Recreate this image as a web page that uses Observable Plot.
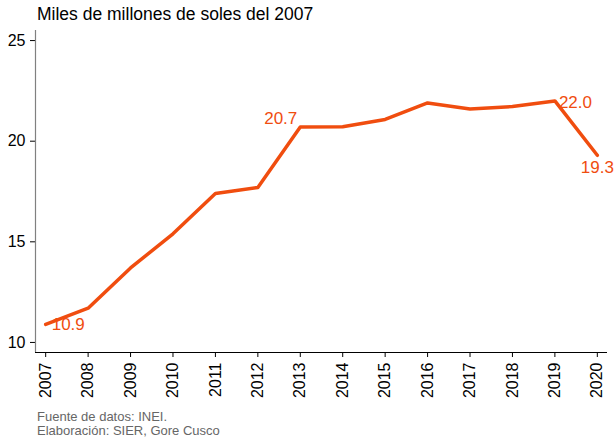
<!DOCTYPE html>
<html><head><meta charset="utf-8">
<script src="https://cdn.jsdelivr.net/npm/d3@7"></script>
<script src="https://cdn.jsdelivr.net/npm/@observablehq/plot@0.6"></script>
<style>
body{margin:0;background:#fff;font-family:"Liberation Sans",Arial,sans-serif;}
#title{height:28px;box-sizing:border-box;padding:4px 0 0 37px;font-size:17.5px;line-height:20px;color:#000;}
#caption{padding:2px 0 0 37px;font-size:13px;line-height:14px;color:#666;}
svg{display:block;}
svg text{font-family:"Liberation Sans",Arial,sans-serif;}
</style></head>
<body>
<div id="title">Miles de millones de soles del 2007</div>
<div id="chart"></div>
<div id="caption">Fuente de datos: INEI.<br>Elaboración: SIER, Gore Cusco</div>
<script>
const years = [2007,2008,2009,2010,2011,2012,2013,2014,2015,2016,2017,2018,2019,2020];
const values = [10.9,11.7,13.7,15.4,17.4,17.7,20.7,20.72,21.08,21.9,21.6,21.72,22.0,19.3];
const yTicks = [10,15,20,25];
const labelled = [
  {year:2007, value:10.9, text:"10.9", anchor:"start", dx:6, dy:0},
  {year:2013, value:20.7, text:"20.7", anchor:"end", dx:-3, dy:-9},
  {year:2019, value:22.0, text:"22.0", anchor:"start", dx:4, dy:2},
  {year:2020, value:19.3, text:"19.3", anchor:"middle", dx:0, dy:12}
];
const data = years.map((y,i)=>({year:y, value:values[i]}));
const color = "#f04d0f";
const xDom = [2006.76, 2020.24];
const yDom = [9.5, 25.5];
const chart = Plot.plot({
  width:614, height:380,
  marginTop:2, marginBottom:56, marginLeft:35, marginRight:7,
  style:{fontFamily:"'Liberation Sans', Arial, sans-serif", fontSize:"16px", color:"#000", background:"#fff"},
  x:{type:"linear", domain:xDom},
  y:{domain:yDom},
  marks:[
    Plot.axisX({ticks:years, tickFormat:d=>String(d), tickRotate:-90, tickSize:5, tickPadding:5, label:null, fontSize:16, stroke:"#000"}),
    Plot.axisY({ticks:yTicks, tickSize:5, tickPadding:5, label:null, fontSize:16, stroke:"#000"}),
    Plot.ruleX([xDom[0]], {y1:yDom[0], y2:yDom[1], stroke:"#808080", strokeWidth:1.2}),
    Plot.ruleY([yDom[0]], {x1:xDom[0], x2:xDom[1], stroke:"#000", strokeWidth:1}),
    Plot.line(data, {x:"year", y:"value", stroke:color, strokeWidth:3.5}),
    ...labelled.map(l => Plot.text([l], {x:"year", y:"value", text:"text", textAnchor:l.anchor, dx:l.dx, dy:l.dy, fill:color, fontSize:17}))
  ]
});
document.getElementById("chart").appendChild(chart);
</script>
</body></html>
